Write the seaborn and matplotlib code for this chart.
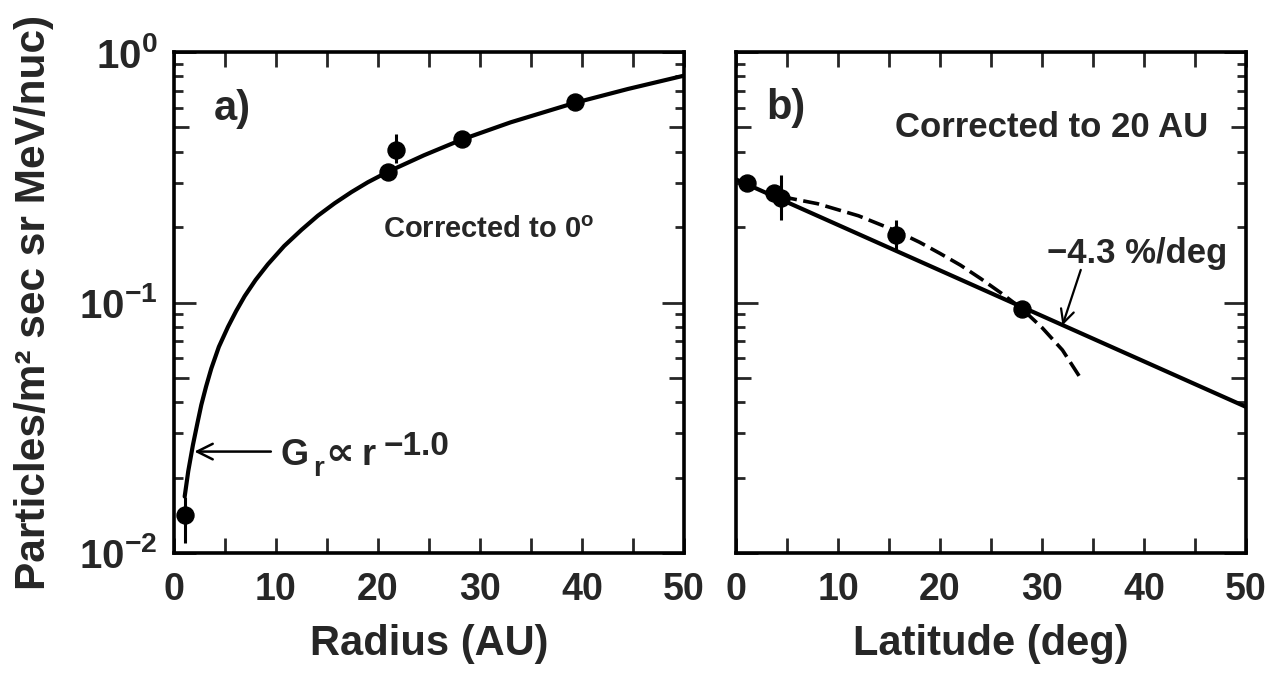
import matplotlib
matplotlib.use("Agg")
import matplotlib.pyplot as plt
import seaborn as sns
import pandas as pd
from matplotlib.ticker import FixedLocator, FixedFormatter, NullFormatter

# panel a) radial dependence, corrected to 0 deg
radius_au = [1.05, 21.0, 21.8, 28.2, 39.3]
flux_radius = [0.0142, 0.333, 0.406, 0.450, 0.630]
err_radius = [1.05, 21.8]
err_radius_lo = [0.011, 0.36]
err_radius_hi = [0.0168, 0.47]
fit_radius = [1.05, 1.4, 1.86, 2.3, 2.68, 3.15, 3.66, 4.4, 5.3, 6.1, 6.93, 8.0, 9.2,
              10.8, 12.5, 14.1, 15.75, 17.4, 19.0, 21.0, 24.5, 28.2, 33.0, 39.3, 44.5, 50.0]
fit_flux_radius = [0.0168, 0.0212, 0.0270, 0.0330, 0.0390, 0.0462, 0.0545, 0.0665,
                   0.0800, 0.0925, 0.106, 0.123, 0.142, 0.168, 0.195, 0.222, 0.249,
                   0.276, 0.302, 0.333, 0.387, 0.447, 0.524, 0.627, 0.712, 0.805]

# panel b) latitude dependence, corrected to 20 AU
lat_deg = [1.05, 3.7, 4.4, 15.7, 28.0]
flux_lat = [0.299, 0.273, 0.261, 0.186, 0.0946]
err_lat = [4.4, 15.7]
err_lat_lo = [0.213, 0.162]
err_lat_hi = [0.323, 0.213]
exp_lat = [0.0, 50.0]
exp_flux = [0.31, 0.0383]
dash_lat = [4.4, 8.0, 12.0, 15.7, 18.0, 20.0, 22.0, 24.0, 26.0, 28.0, 30.0, 32.0, 33.9]
dash_flux = [0.265, 0.248, 0.222, 0.193, 0.174, 0.157, 0.141, 0.1245, 0.109, 0.0946,
             0.0794, 0.0646, 0.049]

x_ticks = [0, 10, 20, 30, 40, 50]
y_ticks = [0.01, 0.1, 1.0]
y_tick_labels = ["10$^{-2}$", "10$^{-1}$", "10$^{0}$"]

sns.set_style("ticks")
plt.rcParams["font.family"] = ["Liberation Sans", "DejaVu Sans"]
plt.rcParams["font.weight"] = "bold"
plt.rcParams["mathtext.default"] = "regular"
plt.rcParams["axes.unicode_minus"] = True

fig, axes = plt.subplots(1, 2, figsize=(12.81, 6.76), dpi=100)
fig.subplots_adjust(left=0.1358, right=0.9727, bottom=0.182, top=0.923, wspace=0.102)

minor_y = [k * d for d in (0.01, 0.1) for k in range(2, 10)]
minor_is_five = [k == 5 for d in (0.01, 0.1) for k in range(2, 10)]


def style_axis(ax, show_ylabels):
    ax.set_yscale("log")
    ax.set_xlim(0, 50)
    ax.set_ylim(0.01, 1.0)
    for s in ax.spines.values():
        s.set_linewidth(2.6)
        s.set_color("black")
    ax.xaxis.set_major_locator(FixedLocator(x_ticks))
    ax.xaxis.set_minor_locator(FixedLocator([5, 15, 25, 35, 45]))
    ax.yaxis.set_major_locator(FixedLocator(y_ticks))
    ax.yaxis.set_minor_locator(FixedLocator(minor_y))
    ax.yaxis.set_minor_formatter(NullFormatter())
    if show_ylabels:
        ax.yaxis.set_major_formatter(FixedFormatter(y_tick_labels))
    else:
        ax.yaxis.set_major_formatter(NullFormatter())
    ax.tick_params(axis="x", which="both", direction="in", top=True, bottom=True,
                   length=11, width=2, pad=14, labelsize=27)
    ax.tick_params(axis="y", which="major", direction="in", left=True, right=True,
                   length=16, width=2, pad=12, labelsize=29)
    ax.tick_params(axis="y", which="minor", direction="in", left=True, right=True,
                   length=6.5, width=2)
    # the 5x minor ticks are drawn a bit longer
    for t, five in zip(ax.yaxis.get_minor_ticks(len(minor_y)), minor_is_five):
        if five:
            t.tick1line.set_markersize(11)
            t.tick2line.set_markersize(11)
    for lab in ax.get_xticklabels() + ax.get_yticklabels():
        lab.set_fontweight("bold")


# ---- panel a) ----
ax = axes[0]
df_fit_r = pd.DataFrame({"r": fit_radius, "j": fit_flux_radius})
sns.lineplot(data=df_fit_r, x="r", y="j", ax=ax, color="black", lw=3, sort=False)
ax.vlines(err_radius, err_radius_lo, err_radius_hi, color="black", lw=2.2)
df_r = pd.DataFrame({"r": radius_au, "j": flux_radius})
sns.scatterplot(data=df_r, x="r", y="j", ax=ax, color="black", s=150, edgecolor="black",
                zorder=5)
style_axis(ax, True)
ax.set_xlabel("Radius (AU)", fontsize=30, fontweight="bold", labelpad=11)
ax.set_ylabel("Particles/m² sec sr MeV/nuc)", fontsize=30.5, fontweight="bold",
              labelpad=18)
ax.text(3.9, 0.59, "a)", fontsize=30, fontweight="bold", va="center", ha="left")
ax.text(30.9, 0.195, "Corrected to 0$^o$", fontsize=21, fontweight="bold",
        va="center", ha="center")
ax.annotate("", xy=(2.0, 0.0254), xytext=(9.5, 0.0254),
            arrowprops=dict(arrowstyle="->", lw=1.8, color="black",
                            shrinkA=0, shrinkB=0, mutation_scale=28))
ax.text(10.4, 0.02245, "G", fontsize=26, fontweight="bold", va="baseline", ha="left")
ax.text(13.6, 0.0202, "r", fontsize=20, fontweight="bold", va="baseline", ha="left")
ax.text(14.8, 0.02245, "\u221d", fontsize=29, fontweight="bold", va="baseline", ha="left",
        family="DejaVu Sans")
ax.text(18.4, 0.02245, "r", fontsize=26, fontweight="bold", va="baseline", ha="left")
ax.text(20.6, 0.0246, "\u22121.0", fontsize=24, fontweight="bold", va="baseline", ha="left")

# ---- panel b) ----
ax = axes[1]
df_exp = pd.DataFrame({"lat": exp_lat, "j": exp_flux})
sns.lineplot(data=df_exp, x="lat", y="j", ax=ax, color="black", lw=3)
df_dash = pd.DataFrame({"lat": dash_lat, "j": dash_flux})
sns.lineplot(data=df_dash, x="lat", y="j", ax=ax, color="black", lw=2.6,
             linestyle=(0, (4.5, 1.8)))
ax.vlines(err_lat, err_lat_lo, err_lat_hi, color="black", lw=2.2)
df_lat = pd.DataFrame({"lat": lat_deg, "j": flux_lat})
sns.scatterplot(data=df_lat, x="lat", y="j", ax=ax, color="black", s=150, edgecolor="black",
                zorder=5)
style_axis(ax, False)
ax.set_xlabel("Latitude (deg)", fontsize=30, fontweight="bold", labelpad=11)
ax.set_ylabel("")
ax.text(3.0, 0.60, "b)", fontsize=30, fontweight="bold", va="center", ha="left")
ax.text(30.9, 0.50, "Corrected to 20 AU", fontsize=25, fontweight="bold",
        va="center", ha="center")
ax.text(39.3, 0.157, "\u22124.3 %/deg", fontsize=25, fontweight="bold",
        va="center", ha="center")
ax.annotate("", xy=(32.0, 0.081), xytext=(33.8, 0.135),
            arrowprops=dict(arrowstyle="->", lw=1.6, color="black",
                            shrinkA=0, shrinkB=0, mutation_scale=24))

fig.savefig("out.png", dpi=100)
